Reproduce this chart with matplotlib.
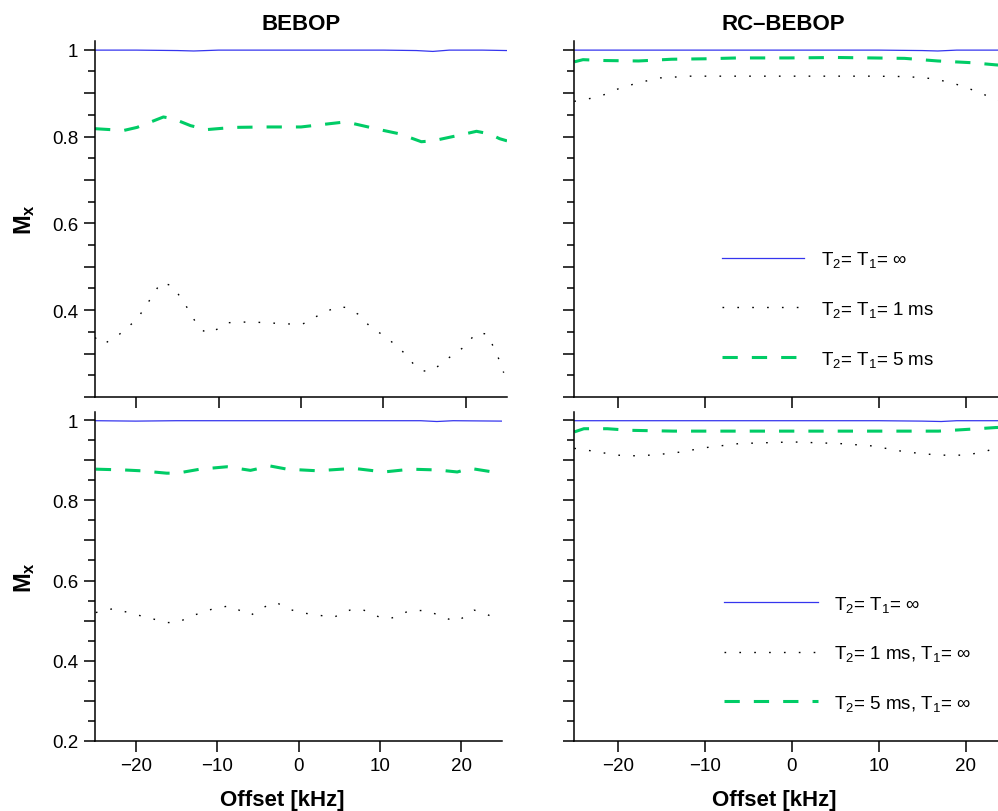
import matplotlib
matplotlib.use("Agg")
import matplotlib.pyplot as plt
from matplotlib.ticker import FixedLocator, MultipleLocator, FuncFormatter

plt.rcParams['font.family'] = ['Liberation Sans', 'DejaVu Sans']
plt.rcParams['mathtext.fontset'] = 'custom'
plt.rcParams['mathtext.rm'] = 'Liberation Sans'
plt.rcParams['mathtext.it'] = 'Liberation Sans'
plt.rcParams['mathtext.bf'] = 'Liberation Sans:bold'

# ---- data ----
# BEBOP, T2 = T1
tl_blue_x = [-25, -20, -15, -13, -10, -5, 0, 5, 10, 14, 16, 18, 22, 25]
tl_blue_y = [0.999, 0.999, 0.998, 0.997, 0.999, 0.999, 0.999, 0.999, 0.999, 0.998, 0.996, 0.999, 0.999, 0.998]
tl_green_x = [-25, -21.5, -19.9, -16.7, -15.5, -13.4, -11.4, -8.2, -4.2, 0, 2.3, 5.1, 6.3, 10, 12, 14.6, 16, 19.2, 21.3, 22.9, 24.1, 25]
tl_green_y = [0.818, 0.814, 0.821, 0.845, 0.841, 0.825, 0.816, 0.821, 0.822, 0.822, 0.827, 0.833, 0.830, 0.814, 0.806, 0.788, 0.790, 0.803, 0.812, 0.806, 0.795, 0.790]
tl_dot_x = [-25, -24, -22, -19.9, -18.3, -17, -15.6, -14.2, -13, -12.2, -11.2, -10.2, -9, -6.2, -4.2, -1.2, 0.2, 2.4, 4.4, 5.6, 6.9, 8.5, 10.1, 12.1, 13.7, 14.7, 15.9, 17.7, 19.7, 21.3, 22.6, 23.8, 24.6]
tl_dot_y = [0.337, 0.321, 0.345, 0.379, 0.425, 0.464, 0.456, 0.418, 0.379, 0.356, 0.346, 0.356, 0.371, 0.373, 0.371, 0.368, 0.368, 0.391, 0.408, 0.406, 0.391, 0.360, 0.341, 0.310, 0.275, 0.260, 0.260, 0.287, 0.314, 0.348, 0.345, 0.298, 0.256]

# RC-BEBOP, T2 = T1
tr_blue_x = [-25, -20, -10, 0, 10, 15, 16.8, 19, 25]
tr_blue_y = [0.999, 0.999, 0.999, 0.999, 0.999, 0.998, 0.997, 0.999, 0.999]
tr_green_x = [-25, -24, -21.5, -17.6, -13.8, -10, -6.2, -0.4, 5.3, 9.2, 13, 16.8, 20.7, 23.5, 25]
tr_green_y = [0.972, 0.977, 0.975, 0.974, 0.978, 0.979, 0.981, 0.981, 0.982, 0.981, 0.980, 0.974, 0.970, 0.965, 0.963]
tr_dot_x = [-25, -22.8, -21.3, -19.7, -17.4, -15.1, -11.7, -5.9, 1.8, 9.4, 13.3, 16.4, 18.7, 21, 23.3, 25]
tr_dot_y = [0.881, 0.889, 0.898, 0.912, 0.925, 0.935, 0.939, 0.939, 0.939, 0.939, 0.938, 0.933, 0.922, 0.906, 0.887, 0.875]

# BEBOP, T1 = inf
bl_blue_x = [-25, -20, -15, -10, -5, 0, 5, 10, 15, 17, 19, 25]
bl_blue_y = [0.999, 0.998, 0.999, 0.999, 0.999, 0.999, 0.999, 0.999, 0.999, 0.997, 0.999, 0.998]
bl_green_x = [-24.9, -21.4, -19.4, -16.2, -14.9, -12.1, -8.8, -5.9, -3.5, -1.4, 2.3, 6.8, 10.5, 13.8, 17.1, 19.5, 21.1, 24.8]
bl_green_y = [0.878, 0.876, 0.874, 0.868, 0.868, 0.878, 0.884, 0.875, 0.886, 0.878, 0.874, 0.880, 0.871, 0.878, 0.876, 0.871, 0.880, 0.868]
bl_dot_x = [-24.9, -22.7, -20.2, -18.6, -16.2, -14.9, -12.9, -10.4, -8.4, -7.2, -5.9, -3.9, -2.7, -1.4, 0.2, 2.6, 4.3, 6.3, 7.8, 10, 11.3, 13.7, 15.8, 18.2, 19.5, 21.6, 22.6, 24.8]
bl_dot_y = [0.520, 0.530, 0.516, 0.508, 0.495, 0.495, 0.513, 0.530, 0.537, 0.525, 0.513, 0.537, 0.545, 0.530, 0.520, 0.513, 0.508, 0.526, 0.528, 0.508, 0.505, 0.525, 0.525, 0.505, 0.498, 0.526, 0.520, 0.501]

# RC-BEBOP, T1 = inf
br_blue_x = [-25, -20, -10, 0, 10, 15, 17.2, 19, 25]
br_blue_y = [0.999, 0.999, 0.999, 0.999, 0.999, 0.998, 0.997, 0.999, 0.999]
br_green_x = [-25, -23.9, -21.2, -18.6, -13.6, -6, 1.6, 9.3, 16.9, 20.7, 23.5, 25]
br_green_y = [0.971, 0.979, 0.979, 0.975, 0.973, 0.973, 0.973, 0.973, 0.973, 0.978, 0.982, 0.983]
br_dot_x = [-25, -22.8, -20.1, -17.5, -13.6, -9.8, -6, 0.1, 5.5, 9.3, 13.1, 16.9, 20, 22.3, 23.5, 25]
br_dot_y = [0.930, 0.923, 0.913, 0.911, 0.918, 0.932, 0.942, 0.946, 0.942, 0.936, 0.921, 0.913, 0.913, 0.922, 0.932, 0.940]

top_labels = ["T$_2$= T$_1$= \u221e", "T$_2$= T$_1$= 1 ms", "T$_2$= T$_1$= 5 ms"]
bot_labels = ["T$_2$= T$_1$= \u221e", "T$_2$= 1 ms, T$_1$= \u221e", "T$_2$= 5 ms, T$_1$= \u221e"]

BLUE = '#3535ee'
GREEN = '#00cc66'

W, H = 998, 812
fig = plt.figure(figsize=(W / 100, H / 100), dpi=100)


def px_axes(x0, y0, x1, y1):
    return fig.add_axes([x0 / W, 1 - y1 / H, (x1 - x0) / W, (y1 - y0) / H])


ax_tl = px_axes(95, 42, 507, 398)
ax_tr = px_axes(574.3, 42, 1009, 398)
ax_bl = px_axes(95, 413.3, 502, 741.7)
ax_br = px_axes(574.3, 413.3, 1009, 741.7)


def draw(ax, bx, by, dx, dy, gx, gy):
    a, = ax.plot(bx, by, color=BLUE, lw=0.9)
    b, = ax.plot(dx, dy, color='black', lw=1.0, linestyle=(0, (1.2, 9.5)))
    c, = ax.plot(gx, gy, color=GREEN, lw=2.2, linestyle=(0, (5.0, 4.6)))
    return [a, b, c]


def style(ax, top, left):
    ax.set_xlim(-25, 25)
    ax.set_ylim(0.2, 1.02)
    for s in ['top', 'right']:
        ax.spines[s].set_visible(False)
    for s in ['left', 'bottom']:
        ax.spines[s].set_linewidth(1.1)
    ax.xaxis.set_major_locator(FixedLocator([-20, -10, 0, 10, 20]))
    ax.yaxis.set_major_locator(FixedLocator([0.2, 0.3, 0.4, 0.5, 0.6, 0.7, 0.8, 0.9, 1.0]))
    ax.yaxis.set_minor_locator(MultipleLocator(0.05))

    def yfmt(v, pos):
        k = round(v * 10)
        if not left or k % 2:
            return ''
        if top and k == 2:
            return ''
        return '%g' % (k / 10)

    ax.yaxis.set_major_formatter(FuncFormatter(yfmt))
    ax.tick_params(axis='both', which='major', direction='out', length=8, width=1.1,
                   labelsize=13.5, pad=4)
    ax.tick_params(axis='y', which='minor', direction='out', length=5, width=1.1)
    if top:
        ax.tick_params(axis='x', labelbottom=False)
    else:
        ax.set_xlabel('Offset [kHz]', fontsize=16, fontweight='bold')
        ax.xaxis.set_label_coords(0.46, -0.178)
        ax.xaxis.label.set_va('center')
    if left:
        ax.set_ylabel(r'$\mathbf{M_x}$', fontsize=17)
        ax.yaxis.set_label_coords(-0.172, 0.5)
        ax.yaxis.label.set_va('center')


h_tl = draw(ax_tl, tl_blue_x, tl_blue_y, tl_dot_x, tl_dot_y, tl_green_x, tl_green_y)
h_tr = draw(ax_tr, tr_blue_x, tr_blue_y, tr_dot_x, tr_dot_y, tr_green_x, tr_green_y)
h_bl = draw(ax_bl, bl_blue_x, bl_blue_y, bl_dot_x, bl_dot_y, bl_green_x, bl_green_y)
h_br = draw(ax_br, br_blue_x, br_blue_y, br_dot_x, br_dot_y, br_green_x, br_green_y)

style(ax_tl, True, True)
style(ax_tr, True, False)
style(ax_bl, False, True)
style(ax_br, False, False)

ax_tl.set_title('BEBOP', fontsize=16, fontweight='bold', pad=9)
ax_tr.set_title('RC\u2013BEBOP', fontsize=16, fontweight='bold', pad=9, x=0.48)

ax_tr.legend(h_tr, top_labels, loc='upper left', bbox_to_anchor=(0.339, 0.415),
             frameon=False, fontsize=13.5, handlelength=4.4, handletextpad=0.9,
             labelspacing=1.58, borderpad=0, borderaxespad=0)
ax_br.legend(h_br, bot_labels, loc='upper left', bbox_to_anchor=(0.344, 0.448),
             frameon=False, fontsize=13.5, handlelength=5.0, handletextpad=0.9,
             labelspacing=1.58, borderpad=0, borderaxespad=0)

fig.savefig('out.png', dpi=100)
